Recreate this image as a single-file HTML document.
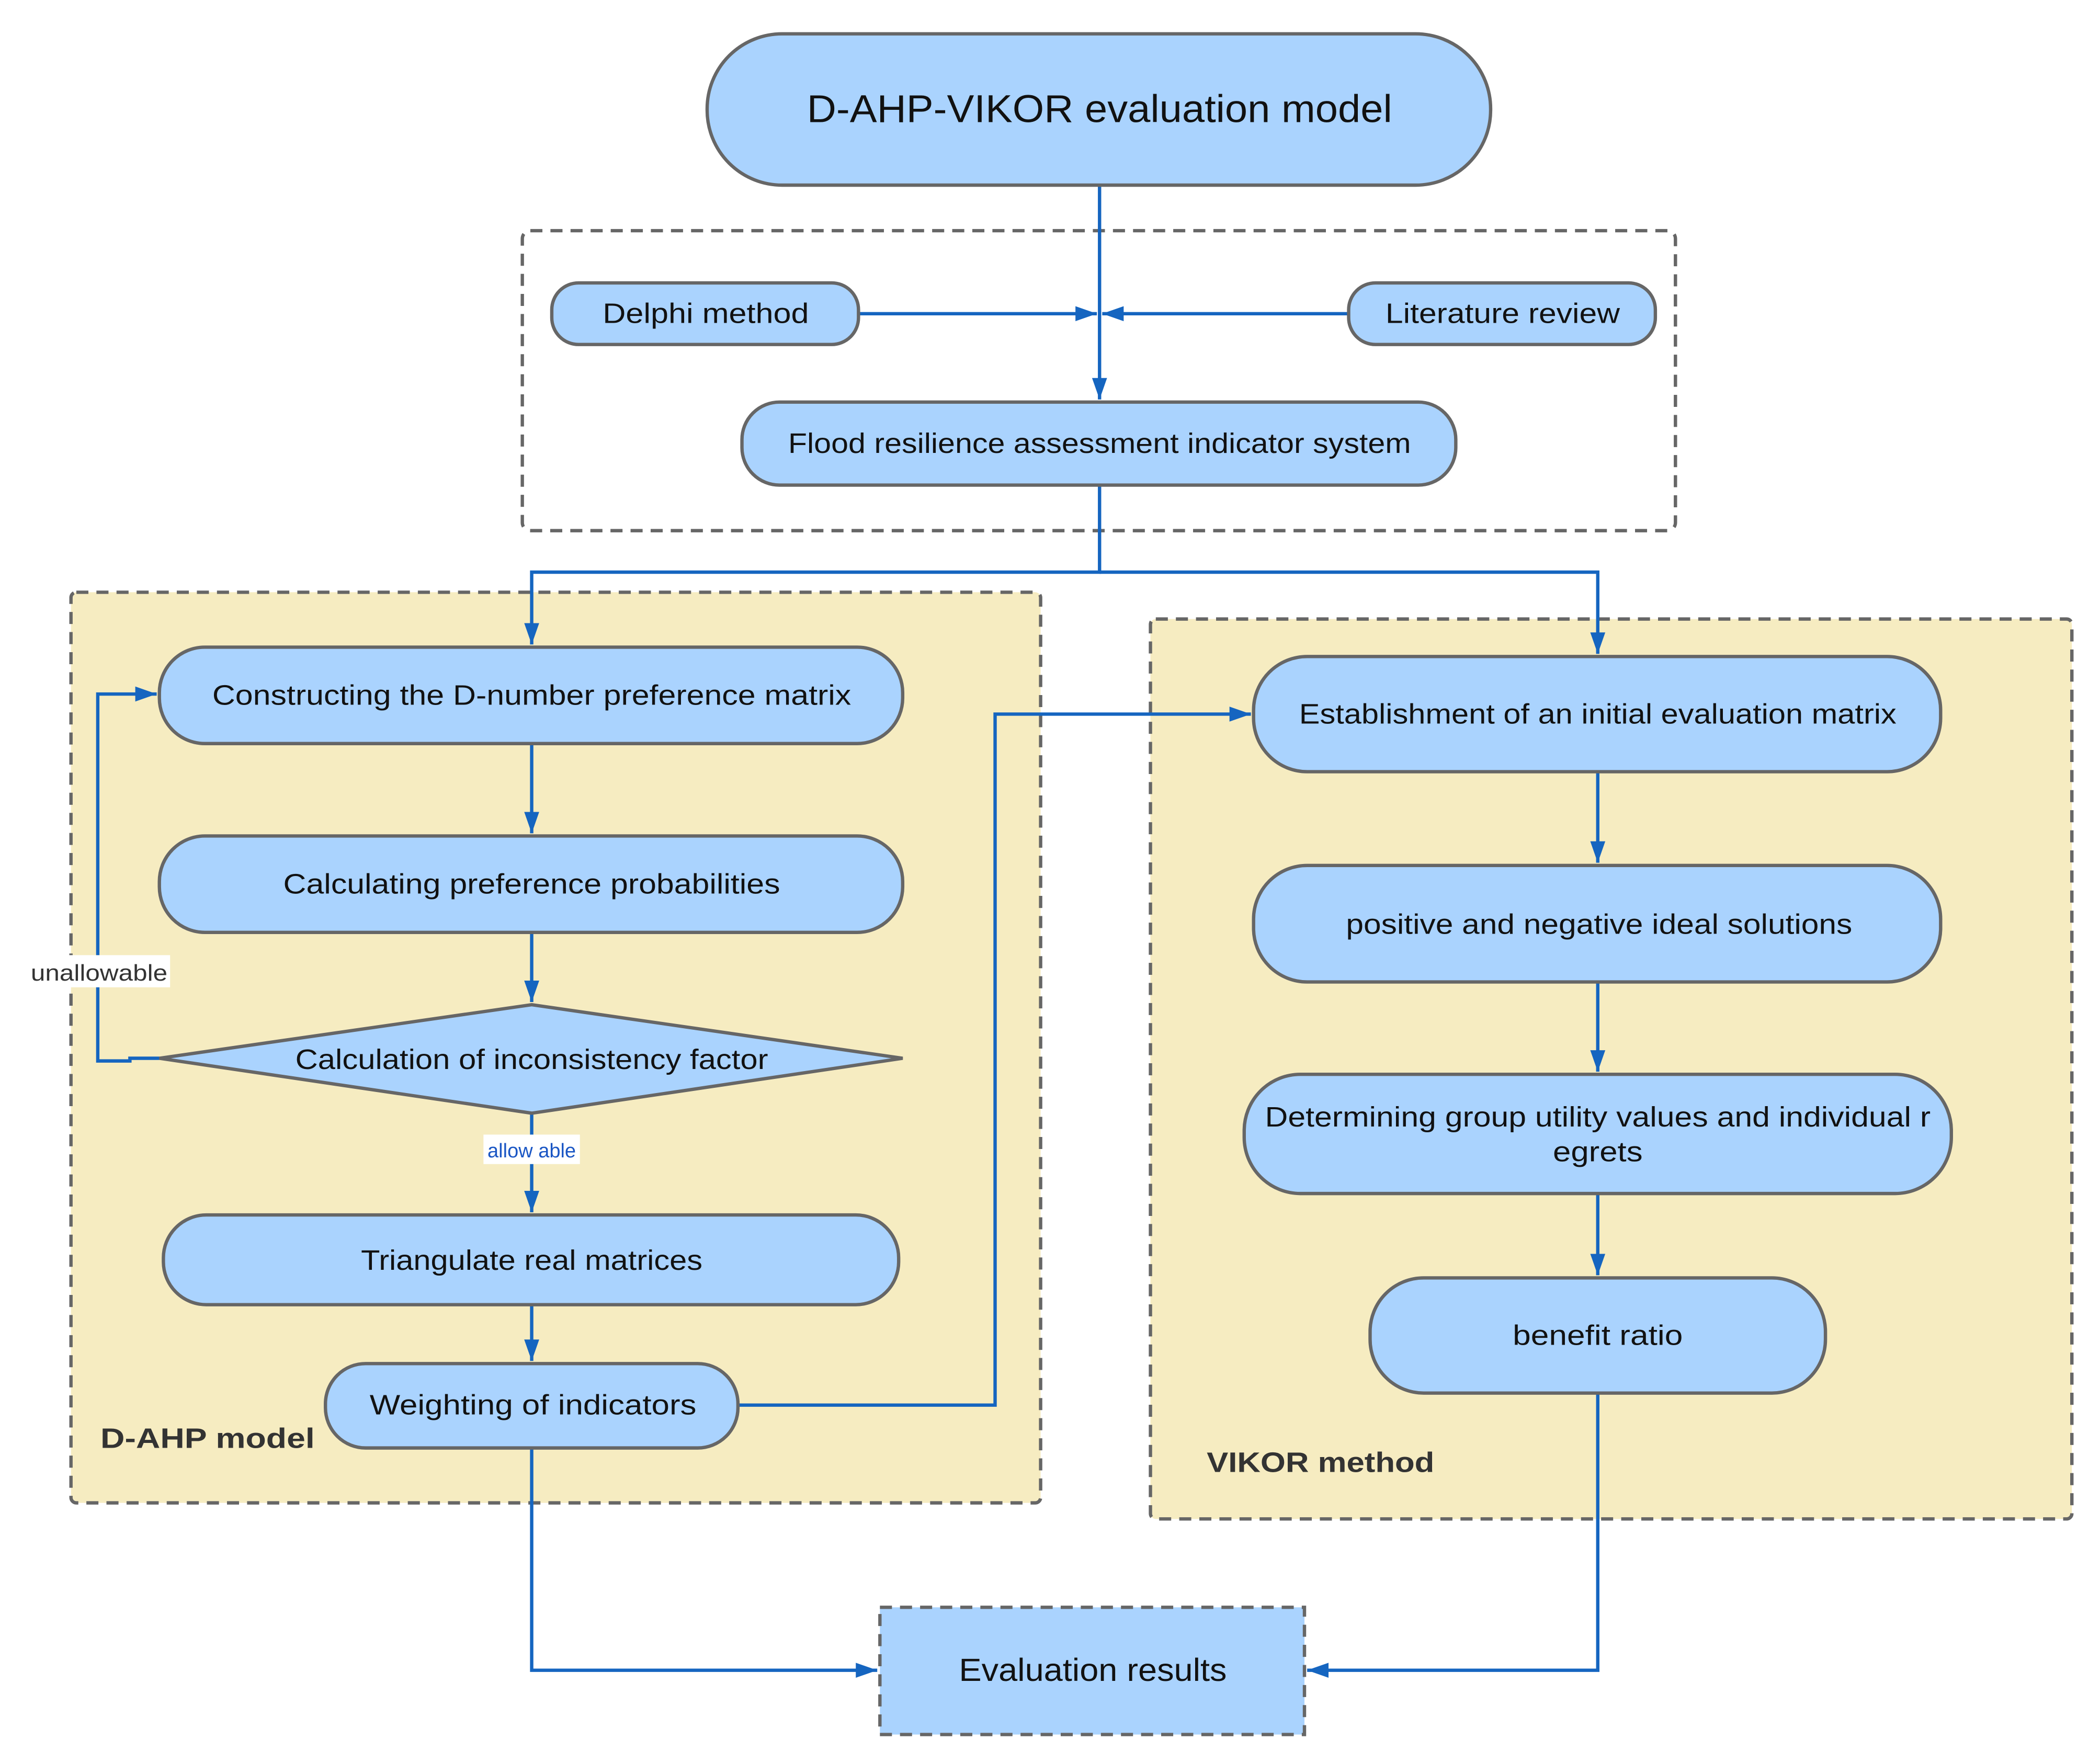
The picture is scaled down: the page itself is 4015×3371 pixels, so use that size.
<!DOCTYPE html>
<html><head><meta charset="utf-8"><style>html,body{margin:0;padding:0;background:#fff}svg{display:block}</style></head>
<body>
<svg xmlns="http://www.w3.org/2000/svg" width="4015" height="3371" viewBox="0 0 1568 1316" font-family="Liberation Sans, sans-serif">
<defs>
<marker id="b" viewBox="0 0 10 10" refX="10" refY="5" markerWidth="16" markerHeight="16" orient="auto" markerUnits="userSpaceOnUse"><path d="M0,1.5 L10,5 L0,8.5 z" fill="#1565c0"/></marker>
</defs>
<rect width="1568" height="1316" fill="#fff"/>
<rect x="390" y="172" width="861" height="224" rx="6" fill="none" stroke="#666" stroke-width="2.5" stroke-dasharray="9,6"/>
<rect x="53" y="442" width="724" height="680" rx="4" fill="#f6ecc1" stroke="#666" stroke-width="2.5" stroke-dasharray="9,6"/>
<rect x="859" y="462" width="688" height="672" rx="4" fill="#f6ecc1" stroke="#666" stroke-width="2.5" stroke-dasharray="9,6"/>
<text x="75" y="1081" font-size="21" font-weight="bold" fill="#333" textLength="160" lengthAdjust="spacingAndGlyphs">D-AHP model</text>
<text x="901" y="1099" font-size="21" font-weight="bold" fill="#333" textLength="170" lengthAdjust="spacingAndGlyphs">VIKOR method</text>
<g stroke="#1565c0" stroke-width="2.5" fill="none">
<path d="M821,138 V298" marker-end="url(#b)"/>
<path d="M641,234 H819" marker-end="url(#b)"/>
<path d="M1007,234 H823" marker-end="url(#b)"/>
<path d="M821,362 V427 H397 V481" marker-end="url(#b)"/>
<path d="M821,427 H1193 V488" marker-end="url(#b)"/>
<path d="M397,555 V622" marker-end="url(#b)"/>
<path d="M397,696 V748" marker-end="url(#b)"/>
<path d="M397,831 V905" marker-end="url(#b)"/>
<path d="M397,974 V1016" marker-end="url(#b)"/>
<path d="M119,790 H97 V792 H73 V518 H117" marker-end="url(#b)"/>
<path d="M551,1049 H743 V533 H934" marker-end="url(#b)"/>
<path d="M1193,576 V644" marker-end="url(#b)"/>
<path d="M1193,733 V800" marker-end="url(#b)"/>
<path d="M1193,891 V952" marker-end="url(#b)"/>
<path d="M397,1081 V1247 H655" marker-end="url(#b)"/>
<path d="M1193,1040 V1247 H976" marker-end="url(#b)"/>
</g>
<g fill="#aad3fe" stroke="#666" stroke-width="2.5">
<rect x="528" y="25" width="585" height="113" rx="56"/>
<rect x="412" y="211" width="229" height="46" rx="20"/>
<rect x="1007" y="211" width="229" height="46" rx="20"/>
<rect x="554" y="300" width="533" height="62" rx="28"/>
<rect x="119" y="483" width="555" height="72" rx="34"/>
<rect x="119" y="624" width="555" height="72" rx="34"/>
<polygon points="119,790 397,750 674,790 397,831"/>
<rect x="122" y="907" width="549" height="67" rx="32"/>
<rect x="243" y="1018" width="308" height="63" rx="30"/>
<rect x="936" y="490" width="513" height="86" rx="40"/>
<rect x="936" y="646" width="513" height="87" rx="40"/>
<rect x="929" y="802" width="528" height="89" rx="42"/>
<rect x="1023" y="954" width="340" height="86" rx="40"/>
<rect x="657" y="1200" width="317" height="95" stroke-dasharray="9,6"/>
</g>
<rect x="21" y="713" width="106" height="24" fill="#fff"/>
<text x="23" y="732" font-size="17" fill="#333" textLength="102" lengthAdjust="spacingAndGlyphs">unallowable</text>
<rect x="361" y="847" width="72" height="22" fill="#fff"/>
<text x="364" y="864" font-size="15" fill="#1a56c4" textLength="66" lengthAdjust="spacingAndGlyphs">allow able</text>
<g font-size="21" fill="#111" text-anchor="middle">
<text x="821" y="91" font-size="29" textLength="437" lengthAdjust="spacingAndGlyphs">D-AHP-VIKOR evaluation model</text>
<text x="527" y="241" textLength="154" lengthAdjust="spacingAndGlyphs">Delphi method</text>
<text x="1122" y="241" textLength="175" lengthAdjust="spacingAndGlyphs">Literature review</text>
<text x="821" y="338" textLength="465" lengthAdjust="spacingAndGlyphs">Flood resilience assessment indicator system</text>
<text x="397" y="526" textLength="477" lengthAdjust="spacingAndGlyphs">Constructing the D-number preference matrix</text>
<text x="397" y="667" textLength="371" lengthAdjust="spacingAndGlyphs">Calculating preference probabilities</text>
<text x="397" y="798" textLength="353" lengthAdjust="spacingAndGlyphs">Calculation of inconsistency factor</text>
<text x="397" y="948" textLength="255" lengthAdjust="spacingAndGlyphs">Triangulate real matrices</text>
<text x="398" y="1056" textLength="244" lengthAdjust="spacingAndGlyphs">Weighting of indicators</text>
<text x="1193" y="540" textLength="446" lengthAdjust="spacingAndGlyphs">Establishment of an initial evaluation matrix</text>
<text x="1194" y="697" textLength="378" lengthAdjust="spacingAndGlyphs">positive and negative ideal solutions</text>
<text x="1193" y="841" textLength="497" lengthAdjust="spacingAndGlyphs">Determining group utility values and individual r</text>
<text x="1193" y="867" textLength="67" lengthAdjust="spacingAndGlyphs">egrets</text>
<text x="1193" y="1004" textLength="127" lengthAdjust="spacingAndGlyphs">benefit ratio</text>
<text x="816" y="1255" font-size="24" textLength="200" lengthAdjust="spacingAndGlyphs">Evaluation results</text>
</g>
</svg>
</body></html>
